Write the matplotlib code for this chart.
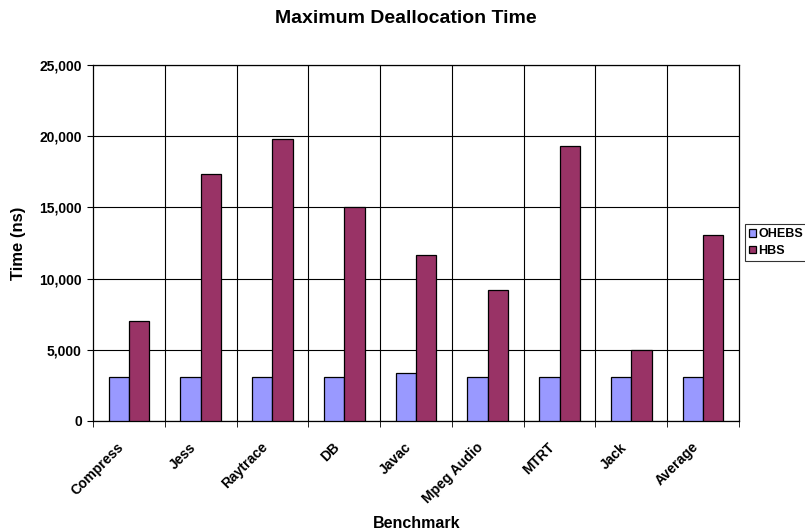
import matplotlib
matplotlib.use("Agg")
import matplotlib.pyplot as plt
import numpy as np
from matplotlib.ticker import FuncFormatter, FixedLocator

categories = ["Compress", "Jess", "Raytrace", "DB", "Javac", "Mpeg Audio", "MTRT", "Jack", "Average"]
ohebs = [3070, 3070, 3070, 3070, 3400, 3070, 3070, 3070, 3090]
hbs = [7000, 17320, 19780, 15040, 11690, 9230, 19280, 4970, 13050]
series_names = ["OHEBS", "HBS"]

plt.rcParams['font.family'] = ['Liberation Sans', 'DejaVu Sans']
plt.rcParams['font.weight'] = 'bold'

W, H = 805, 532
fig = plt.figure(figsize=(W/100, H/100), dpi=100)
ax = fig.add_axes([93/W, 1-421/H, (739-93)/W, (421-65)/H])

x = np.arange(len(categories))
w = 0.283
ax.bar(x - w/2, ohebs, width=w, color="#9999FF", edgecolor="black", linewidth=0.9, label=series_names[0], zorder=3)
ax.bar(x + w/2, hbs, width=w, color="#993366", edgecolor="black", linewidth=0.9, label=series_names[1], zorder=3)

ax.set_xlim(-0.5, len(categories) - 0.5)
ax.set_ylim(0, 25000)
ax.set_yticks(np.arange(0, 25001, 5000))
ax.yaxis.set_major_formatter(FuncFormatter(lambda v, p: f"{int(v):,}"))
ax.yaxis.grid(True, color="black", linewidth=0.8, zorder=0)

# category labels (rotated), positioned like the reference
ax.set_xticks(x)
ax.set_xticklabels([])
ax.tick_params(axis="x", which="major", length=0)
for i, name in enumerate(categories):
    ax.annotate(name, xy=(x[i], 0), xycoords=("data", "axes fraction"),
                xytext=(-8.6, -13.7), textcoords="offset points",
                rotation=45, rotation_mode="anchor", ha="right", va="top",
                fontsize=10, fontweight="bold", annotation_clip=False)
ax.xaxis.set_minor_locator(FixedLocator(np.arange(-0.5, len(categories), 1.0)))
ax.tick_params(axis="x", which="minor", length=4, direction="out", color="black")
for b in np.arange(0.5, len(categories) - 0.5, 1.0):
    ax.axvline(b, color="black", linewidth=0.8, zorder=0)

ax.tick_params(axis="y", labelsize=10, length=4, direction="out", pad=4)
for lab in ax.get_yticklabels():
    lab.set_fontweight("bold")

for s in ax.spines.values():
    s.set_color("black")
    s.set_linewidth(0.9)

fig.text(19/W, 1-243/H, "Time (ns)", rotation=90, ha="center", va="center", fontsize=12, fontweight="bold")
fig.text(417/W, 1-523/H, "Benchmark", ha="center", va="center", fontsize=11.5, fontweight="bold")
fig.text(406/W, 1-23/H, "Maximum Deallocation Time", ha="center", va="baseline", fontsize=14, fontweight="bold")

leg = fig.legend(loc="upper left", bbox_to_anchor=(745/W, 1-224/H), frameon=True, fancybox=False,
                 edgecolor="black", fontsize=9, handlelength=0.5, handleheight=0.5, handletextpad=0.2,
                 borderpad=0.35, labelspacing=0.35, borderaxespad=0)
leg.get_frame().set_linewidth(0.8)
for t in leg.get_texts():
    t.set_fontweight("bold")

fig.savefig("out.png", dpi=100)
